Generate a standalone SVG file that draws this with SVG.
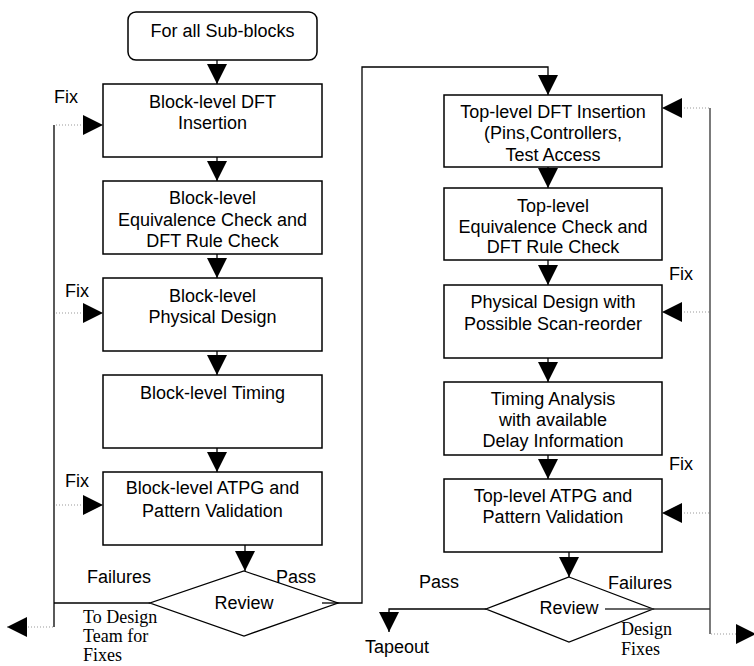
<svg xmlns="http://www.w3.org/2000/svg" width="754" height="666" viewBox="0 0 754 666">
  <defs>
    <marker id="tri" markerUnits="userSpaceOnUse" markerWidth="20" markerHeight="20" refX="20" refY="10" orient="auto">
      <path d="M0,0 L20,10 L0,20 Z" fill="#000"/>
    </marker>
    <style>
      .box { fill: #fff; stroke: #000; stroke-width: 1.5; }
      .dia { fill: #fff; stroke: #000; stroke-width: 1.3; }
      .t { font-family: "Liberation Sans", Arial, sans-serif; font-size: 18px; fill: #000; }
      .c { text-anchor: middle; }
      .s { font-family: "Liberation Serif", "Times New Roman", serif; font-size: 18px; fill: #000; }
      .ln { fill: none; stroke: #000; stroke-width: 1.3; }
      .gr { fill: none; stroke: #333; stroke-width: 1.3; }
      .dot { fill: none; stroke: #999; stroke-width: 1; stroke-dasharray: 1 2; }
      .arr { marker-end: url(#tri); }
    </style>
  </defs>
  <rect width="754" height="666" fill="#fff"/>

  <!-- connectors -->
  <g id="connectors">
    <!-- left column flow -->
    <line class="ln arr" x1="217" y1="60" x2="217" y2="84"/>
    <line class="ln arr" x1="217" y1="157" x2="217" y2="181"/>
    <line class="ln arr" x1="217" y1="254" x2="217" y2="278"/>
    <line class="ln arr" x1="217" y1="351" x2="217" y2="375"/>
    <line class="ln arr" x1="217" y1="448" x2="217" y2="472"/>
    <line class="ln arr" x1="245" y1="545" x2="245" y2="571"/>
    <!-- left feedback loop -->
    <polyline class="ln" points="150,603 54,603"/>
    <line class="ln" x1="54" y1="125" x2="54" y2="627"/>
    <line class="dot arr" x1="56" y1="125" x2="103" y2="125"/>
    <line class="dot arr" x1="56" y1="313" x2="103" y2="313"/>
    <line class="dot arr" x1="56" y1="505" x2="103" y2="505"/>
    <line class="dot arr" x1="53" y1="627" x2="7" y2="627"/>
    <!-- pass to top level -->
    <polyline class="ln arr" points="322,603 362,603 362,67 548,67 548,95"/>
    <!-- right column flow -->
    <line class="ln arr" x1="548" y1="167" x2="548" y2="188"/>
    <line class="ln arr" x1="548" y1="260" x2="548" y2="285"/>
    <line class="ln arr" x1="548" y1="358" x2="548" y2="382"/>
    <line class="ln arr" x1="548" y1="455" x2="548" y2="479"/>
    <line class="ln arr" x1="569" y1="552" x2="569" y2="577"/>
    <!-- right feedback loop -->
    <line class="gr" x1="605" y1="609" x2="710" y2="609"/>
    <line class="gr" x1="710" y1="108" x2="710" y2="634"/>
    <line class="dot arr" x1="709" y1="108" x2="662" y2="108"/>
    <line class="dot arr" x1="709" y1="312" x2="662" y2="312"/>
    <line class="dot arr" x1="709" y1="513" x2="662" y2="513"/>
    <line class="dot arr" x1="711" y1="634" x2="756" y2="634"/>
    <!-- tapeout -->
    <polyline class="ln arr" points="486,609 389,609 389,632"/>
  </g>

  <!-- left column -->
  <g id="start">
    <rect class="box" x="128" y="12" width="189" height="48" rx="8"/>
    <text class="t c" x="222.5" y="37">For all Sub-blocks</text>
  </g>
  <g id="block-dft">
    <rect class="box" x="103" y="84" width="219" height="73"/>
    <text class="t c" x="212.5" y="108">Block-level DFT</text>
    <text class="t c" x="212.5" y="129">Insertion</text>
  </g>
  <g id="block-equiv">
    <rect class="box" x="103" y="181" width="219" height="73"/>
    <text class="t c" x="212.5" y="204">Block-level</text>
    <text class="t c" x="212.5" y="226">Equivalence Check and</text>
    <text class="t c" x="212.5" y="247">DFT Rule Check</text>
  </g>
  <g id="block-phys">
    <rect class="box" x="103" y="278" width="219" height="73"/>
    <text class="t c" x="212.5" y="302">Block-level</text>
    <text class="t c" x="212.5" y="323">Physical Design</text>
  </g>
  <g id="block-timing">
    <rect class="box" x="103" y="375" width="219" height="73"/>
    <text class="t c" x="212.5" y="399">Block-level Timing</text>
  </g>
  <g id="block-atpg">
    <rect class="box" x="103" y="472" width="219" height="73"/>
    <text class="t c" x="212.5" y="494">Block-level ATPG and</text>
    <text class="t c" x="212.5" y="517">Pattern Validation</text>
  </g>
  <g id="block-review">
    <polygon class="dia" points="244,571 338,603 244,636 150,603"/>
    <text class="t c" x="244" y="609">Review</text>
  </g>

  <!-- right column -->
  <g id="top-dft">
    <rect class="box" x="444" y="95" width="218" height="72"/>
    <text class="t c" x="553" y="118">Top-level DFT Insertion</text>
    <text class="t c" x="553" y="139">(Pins,Controllers,</text>
    <text class="t c" x="553" y="161">Test Access</text>
  </g>
  <g id="top-equiv">
    <rect class="box" x="444" y="188" width="218" height="72"/>
    <text class="t c" x="553" y="212">Top-level</text>
    <text class="t c" x="553" y="233">Equivalence Check and</text>
    <text class="t c" x="553" y="253">DFT Rule Check</text>
  </g>
  <g id="top-phys">
    <rect class="box" x="444" y="285" width="218" height="73"/>
    <text class="t c" x="553" y="308">Physical Design with</text>
    <text class="t c" x="553" y="330">Possible Scan-reorder</text>
  </g>
  <g id="top-timing">
    <rect class="box" x="444" y="382" width="218" height="73"/>
    <text class="t c" x="553" y="405">Timing Analysis</text>
    <text class="t c" x="553" y="426">with available</text>
    <text class="t c" x="553" y="447">Delay Information</text>
  </g>
  <g id="top-atpg">
    <rect class="box" x="444" y="479" width="218" height="73"/>
    <text class="t c" x="553" y="502">Top-level ATPG and</text>
    <text class="t c" x="553" y="523">Pattern Validation</text>
  </g>
  <g id="top-review">
    <polygon class="dia" points="569,577 653,609 569,642 486,609"/>
    <text class="t c" x="569" y="614">Review</text>
  </g>
  <!-- redraw the failures line over the diamond -->
  <line class="gr" x1="605" y1="609" x2="653" y2="609"/>
  <line class="ln" x1="322" y1="603" x2="338" y2="603"/>

  <!-- labels -->
  <g id="labels">
    <text class="t" x="54" y="103">Fix</text>
    <text class="t" x="65" y="297">Fix</text>
    <text class="t" x="65" y="487">Fix</text>
    <text class="t" x="669" y="280">Fix</text>
    <text class="t" x="669" y="470">Fix</text>
    <text class="t" x="87" y="583">Failures</text>
    <text class="t" x="276" y="583">Pass</text>
    <text class="s" x="83" y="623">To Design</text>
    <text class="s" x="83" y="642">Team for</text>
    <text class="s" x="83" y="661">Fixes</text>
    <text class="t" x="419" y="588">Pass</text>
    <text class="t" x="608" y="589">Failures</text>
    <text class="s" x="621" y="635">Design</text>
    <text class="s" x="621" y="655">Fixes</text>
    <text class="t" x="365" y="653">Tapeout</text>
  </g>
</svg>
